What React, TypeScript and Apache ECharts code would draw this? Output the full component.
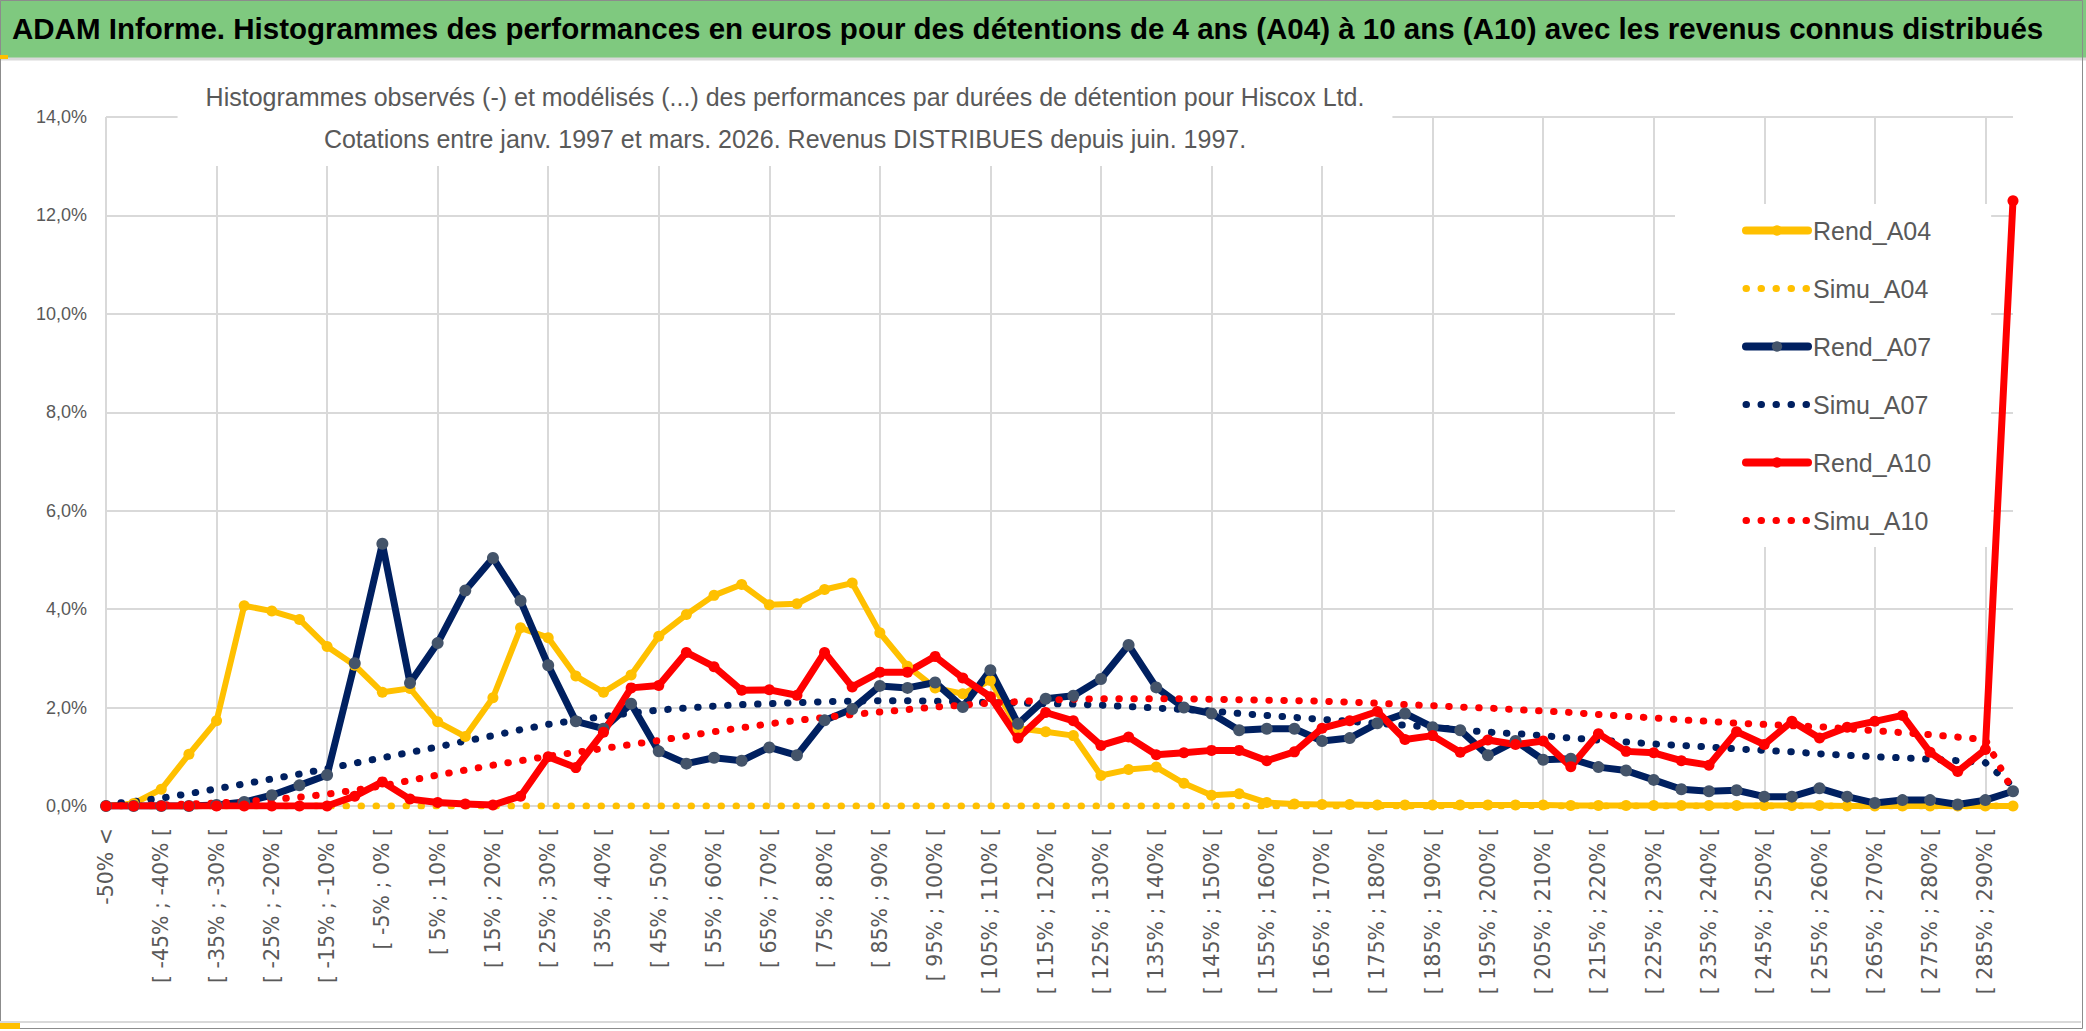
import React, { useEffect, useRef } from "react";
import * as echarts from "echarts";

const mainTitle =
  "ADAM Informe. Histogrammes des performances en euros pour des détentions de 4 ans (A04) à 10 ans (A10) avec les revenus connus distribués";
const subtitleLines = [
  "Histogrammes observés (-) et modélisés (...) des performances par durées de détention pour Hiscox Ltd.",
  "Cotations entre janv. 1997 et mars. 2026. Revenus DISTRIBUES depuis juin. 1997.",
];

const categories = [
  "-50% <", "[ -50% ; -45% [", "[ -45% ; -40% [", "[ -40% ; -35% [", "[ -35% ; -30% [",
  "[ -30% ; -25% [", "[ -25% ; -20% [", "[ -20% ; -15% [", "[ -15% ; -10% [", "[ -10% ; -5% [",
  "[ -5% ; 0% [", "[ 0% ; 5% [", "[ 5% ; 10% [", "[ 10% ; 15% [", "[ 15% ; 20% [",
  "[ 20% ; 25% [", "[ 25% ; 30% [", "[ 30% ; 35% [", "[ 35% ; 40% [", "[ 40% ; 45% [",
  "[ 45% ; 50% [", "[ 50% ; 55% [", "[ 55% ; 60% [", "[ 60% ; 65% [", "[ 65% ; 70% [",
  "[ 70% ; 75% [", "[ 75% ; 80% [", "[ 80% ; 85% [", "[ 85% ; 90% [", "[ 90% ; 95% [",
  "[ 95% ; 100% [", "[ 100% ; 105% [", "[ 105% ; 110% [", "[ 110% ; 115% [", "[ 115% ; 120% [",
  "[ 120% ; 125% [", "[ 125% ; 130% [", "[ 130% ; 135% [", "[ 135% ; 140% [", "[ 140% ; 145% [",
  "[ 145% ; 150% [", "[ 150% ; 155% [", "[ 155% ; 160% [", "[ 160% ; 165% [", "[ 165% ; 170% [",
  "[ 170% ; 175% [", "[ 175% ; 180% [", "[ 180% ; 185% [", "[ 185% ; 190% [", "[ 190% ; 195% [",
  "[ 195% ; 200% [", "[ 200% ; 205% [", "[ 205% ; 210% [", "[ 210% ; 215% [", "[ 215% ; 220% [",
  "[ 220% ; 225% [", "[ 225% ; 230% [", "[ 230% ; 235% [", "[ 235% ; 240% [", "[ 240% ; 245% [",
  "[ 245% ; 250% [", "[ 250% ; 255% [", "[ 255% ; 260% [", "[ 260% ; 265% [", "[ 265% ; 270% [",
  "[ 270% ; 275% [", "[ 275% ; 280% [", "[ 280% ; 285% [", "[ 285% ; 290% [", "> 290%",
];

// values in percent
const rendA04 = [
  0, 0.05, 0.34, 1.05, 1.73, 4.07, 3.96, 3.79, 3.24, 2.86,
  2.31, 2.39, 1.71, 1.41, 2.2, 3.62, 3.42, 2.64, 2.31, 2.66,
  3.45, 3.89, 4.28, 4.5, 4.09, 4.11, 4.4, 4.53, 3.52, 2.84,
  2.4, 2.28, 2.55, 1.58, 1.51, 1.43, 0.62, 0.74, 0.79, 0.46,
  0.22, 0.25, 0.07, 0.04, 0.03, 0.03, 0.02, 0.02, 0.02, 0.02,
  0.02, 0.02, 0.02, 0.01, 0.01, 0.01, 0.01, 0.01, 0.01, 0.01,
  0.01, 0.01, 0.01, 0, 0, 0, 0, 0, 0, 0,
];
const simuA04 = [
  0, 0, 0, 0, 0, 0, 0, 0, 0, 0,
  0, 0, 0, 0, 0, 0, 0, 0, 0, 0,
  0, 0, 0, 0, 0, 0, 0, 0, 0, 0,
  0, 0, 0, 0, 0, 0, 0, 0, 0, 0,
  0, 0, 0, 0, 0, 0, 0, 0, 0, 0,
  0, 0, 0, 0, 0, 0, 0, 0, 0, 0,
  0, 0, 0, 0, 0, 0, 0, 0, 0, 0,
];
const rendA07 = [
  0, 0, 0, 0, 0.02, 0.08, 0.22, 0.42, 0.63, 2.9,
  5.33, 2.5, 3.31, 4.38, 5.04, 4.17, 2.86, 1.72, 1.57, 2.08,
  1.11, 0.86, 0.98, 0.92, 1.19, 1.03, 1.74, 1.97, 2.44, 2.4,
  2.51, 2.01, 2.76, 1.67, 2.18, 2.24, 2.58, 3.27, 2.41, 2.0,
  1.88, 1.54, 1.57, 1.57, 1.32, 1.38, 1.68, 1.88, 1.6, 1.54,
  1.03, 1.32, 0.94, 0.96, 0.79, 0.72, 0.53, 0.34, 0.3, 0.32,
  0.19, 0.19, 0.36, 0.19, 0.06, 0.12, 0.12, 0.03, 0.12, 0.3,
];
const simuA07 = [
  0.04, 0.09, 0.16, 0.25, 0.35, 0.45, 0.55, 0.65, 0.76, 0.87,
  0.98, 1.09, 1.2, 1.32, 1.43, 1.55, 1.66, 1.74, 1.82, 1.89,
  1.95, 1.99, 2.03, 2.06, 2.08, 2.1, 2.12, 2.13, 2.14, 2.14,
  2.13, 2.12, 2.1, 2.09, 2.08, 2.07, 2.05, 2.02, 1.99, 1.96,
  1.93, 1.88, 1.84, 1.8, 1.76, 1.72, 1.68, 1.64, 1.6, 1.55,
  1.5, 1.47, 1.43, 1.38, 1.34, 1.3, 1.26, 1.23, 1.2, 1.16,
  1.13, 1.1, 1.06, 1.03, 1.0, 0.98, 0.95, 0.92, 0.88, 0.4,
];
const rendA10 = [
  0, 0, 0, 0, 0, 0, 0, 0, 0, 0.2,
  0.49, 0.14, 0.07, 0.04, 0.02, 0.2, 1.0, 0.78, 1.5, 2.4,
  2.45, 3.12, 2.83, 2.35, 2.36, 2.25, 3.12, 2.42, 2.72, 2.72,
  3.04, 2.6, 2.22, 1.38, 1.9, 1.73, 1.23, 1.4, 1.04, 1.08,
  1.13, 1.13, 0.92, 1.1, 1.58, 1.73, 1.92, 1.35, 1.43, 1.09,
  1.34, 1.25, 1.32, 0.8, 1.47, 1.11, 1.08, 0.92, 0.83, 1.51,
  1.25, 1.72, 1.38, 1.6, 1.72, 1.84, 1.09, 0.7, 1.15, 12.3,
];
const simuA10 = [
  0, 0.01, 0.02, 0.04, 0.06, 0.09, 0.13, 0.18, 0.24, 0.32,
  0.41, 0.52, 0.63, 0.73, 0.83, 0.92, 1.01, 1.09, 1.17, 1.25,
  1.33, 1.42, 1.51, 1.59, 1.67, 1.74, 1.8, 1.86, 1.91, 1.96,
  2.01, 2.05, 2.09, 2.12, 2.15, 2.17, 2.18, 2.18, 2.18, 2.18,
  2.17, 2.16, 2.15, 2.14, 2.13, 2.11, 2.09, 2.06, 2.04, 2.01,
  1.99, 1.96, 1.93, 1.9, 1.86, 1.82, 1.79, 1.75, 1.72, 1.68,
  1.66, 1.63, 1.61, 1.57, 1.53, 1.49, 1.45, 1.4, 1.35, 0.3,
];

const yMin = 0;
const yMax = 14;
const yInterval = 2;

const YELLOW = "#FFC000";
const NAVY = "#002060";
const NAVY_MARK = "#44546A";
const RED = "#FF0000";
const GRAY_TXT = "#595959";
const GRID = "#d9d9d9";
const DOT: number[] = [0.5, 14.5];

function rendSeries(name: string, data: number[], line: string, mark: string, w: number, size: number) {
  return {
    name,
    type: "line",
    data,
    symbol: "circle",
    symbolSize: size,
    showSymbol: true,
    lineStyle: { color: line, width: w, cap: "round", join: "round" },
    itemStyle: { color: mark },
    emphasis: { disabled: true },
  };
}
function simuSeries(name: string, data: number[], color: string) {
  return {
    name,
    type: "line",
    data,
    symbol: "none",
    showSymbol: false,
    lineStyle: { color, width: 7, type: DOT, cap: "round" },
    itemStyle: { color },
    emphasis: { disabled: true },
  };
}

export default function App() {
  const ref = useRef<HTMLDivElement>(null);
  useEffect(() => {
    if (!ref.current) return;
    const chart = echarts.init(ref.current, undefined, { renderer: "svg" });
    const SUB_C = 785;
    const SUB_P = 28;
    const legendItem = (name: string, simu: boolean, color: string) =>
      simu
        ? { name, itemStyle: { opacity: 0, color: "rgba(0,0,0,0)" }, lineStyle: { width: 7, type: DOT, cap: "round", color } }
        : { name, lineStyle: { width: 8, color } };
    chart.setOption({
      animation: false,
      backgroundColor: "#ffffff",
      textStyle: { fontFamily: "Liberation Sans" },
      title: [
        {
          text: mainTitle,
          left: 12,
          top: 13,
          padding: 0,
          textStyle: { fontSize: 29.5, fontWeight: "bold", color: "#000000", fontFamily: "Liberation Sans" },
        },
        {
          text: subtitleLines.join("\n"),
          left: SUB_C - SUB_P,
          top: 70,
          textAlign: "center",
          padding: [6, SUB_P, 6, SUB_P],
          backgroundColor: "#ffffff",
          textStyle: { fontSize: 25, lineHeight: 42, fontWeight: "normal", color: GRAY_TXT, fontFamily: "Liberation Sans" },
        },
      ],
      graphic: [
        { type: "rect", z: 0, shape: { x: 0, y: 0, width: 2086, height: 58 }, style: { fill: "#7fc97f" } },
        { type: "line", z: 0, shape: { x1: 0, y1: 59, x2: 2086, y2: 59 }, style: { stroke: "#d9d9d9", lineWidth: 3 } },
        { type: "rect", z: 0, shape: { x: 0.5, y: 0.5, width: 2082, height: 1028 }, style: { fill: "rgba(0,0,0,0)", stroke: "#8c8c8c", lineWidth: 1 } },
        { type: "line", z: 0, shape: { x1: 0, y1: 1022, x2: 2081, y2: 1022 }, style: { stroke: "#d9d9d9", lineWidth: 2 } },
        { type: "rect", z: 1, shape: { x: 0, y: 55, width: 8, height: 4 }, style: { fill: YELLOW } },
        { type: "rect", z: 1, shape: { x: 0, y: 1023, width: 20, height: 6 }, style: { fill: YELLOW } },
      ],
      legend: {
        orient: "vertical",
        left: 1675,
        top: 204,
        backgroundColor: "#ffffff",
        padding: [14, 60, 14, 67],
        itemWidth: 62,
        itemHeight: 13,
        itemGap: 33,
        itemTextGap: 6,
        textStyle: { fontSize: 25, color: GRAY_TXT, fontFamily: "Liberation Sans" },
        data: [
          legendItem("Rend_A04", false, YELLOW),
          legendItem("Simu_A04", true, YELLOW),
          legendItem("Rend_A07", false, NAVY),
          legendItem("Simu_A07", true, NAVY),
          legendItem("Rend_A10", false, RED),
          legendItem("Simu_A10", true, RED),
        ],
      },
      grid: { left: 106, right: 73, top: 117, bottom: 225, containLabel: false },
      xAxis: {
        type: "category",
        data: categories,
        boundaryGap: false,
        axisLine: { show: true, lineStyle: { color: GRID, width: 2 } },
        axisTick: { show: false },
        axisLabel: {
          interval: 1,
          rotate: 90,
          margin: 22,
          fontSize: 20.5,
          color: GRAY_TXT,
          fontFamily: "DejaVu Sans",
        },
        splitLine: { show: true, interval: 3, lineStyle: { color: GRID, width: 2 } },
      },
      yAxis: {
        type: "value",
        min: yMin,
        max: yMax,
        interval: yInterval,
        axisLine: { show: false },
        axisTick: { show: false },
        axisLabel: {
          margin: 19,
          fontSize: 18,
          color: GRAY_TXT,
          fontFamily: "Liberation Sans",
          formatter: (v: number) => v.toFixed(1).replace(".", ",") + "%",
        },
        splitLine: { show: true, lineStyle: { color: GRID, width: 2 } },
      },
      series: [
        rendSeries("Rend_A04", rendA04, YELLOW, YELLOW, 6, 11),
        simuSeries("Simu_A04", simuA04, YELLOW),
        rendSeries("Rend_A07", rendA07, NAVY, NAVY_MARK, 7, 12),
        simuSeries("Simu_A07", simuA07, NAVY),
        rendSeries("Rend_A10", rendA10, RED, RED, 7, 11),
        simuSeries("Simu_A10", simuA10, RED),
      ],
    });
    return () => chart.dispose();
  }, []);
  return (
    <div
      ref={ref}
      style={{ position: "fixed", left: 0, top: 0, width: 2086, height: 1031, background: "#fff" }}
    />
  );
}
